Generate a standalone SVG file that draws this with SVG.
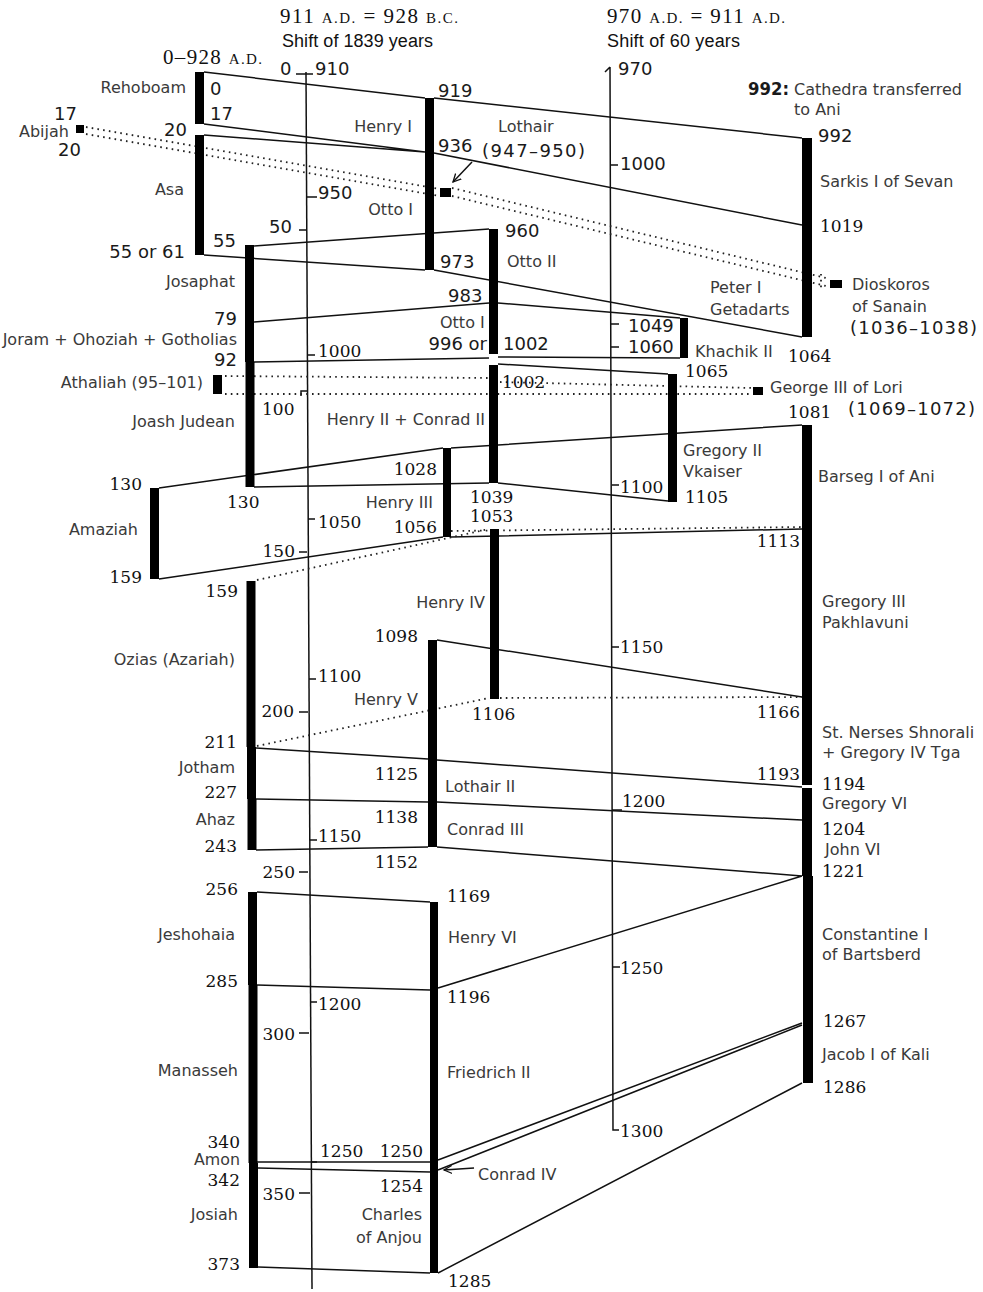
<svg xmlns="http://www.w3.org/2000/svg" width="983" height="1292" viewBox="0 0 983 1292">
<defs>
<style>
.b{fill:#000}
.c{stroke:#111;stroke-width:1.5;fill:none}
.dt{stroke:#222;stroke-width:1.8;fill:none;stroke-dasharray:1.6 4.2}
.ax{stroke:#111;stroke-width:1.5;fill:none}
.n{font-family:"DejaVu Sans",sans-serif;font-size:16px;fill:#3a3a3a}
.s{font-family:"DejaVu Sans",sans-serif;font-size:18px;fill:#1a1a1a}
.d{font-family:"DejaVu Serif",serif;font-size:17px;fill:#111}
.e{text-anchor:end}
.h{font-family:"Liberation Serif",serif;font-size:21px;fill:#111}
.hs{font-family:"Liberation Sans",sans-serif;font-size:18px;fill:#111}
</style>
<marker id="ah" markerWidth="10" markerHeight="10" refX="8" refY="5" orient="auto" markerUnits="userSpaceOnUse">
<path d="M0,1 L8,5 L0,9" fill="none" stroke="#111" stroke-width="1.3"/>
</marker>
</defs>
<rect width="983" height="1292" fill="#fff"/>

<g id="headers">
<text class="h" x="280" y="23" textLength="178">911 <tspan font-size="15">A.D.</tspan> = 928 <tspan font-size="15">B.C.</tspan></text>
<text class="hs" x="282" y="47" textLength="151">Shift of 1839 years</text>
<text class="h" x="607" y="23" textLength="178">970 <tspan font-size="15">A.D.</tspan> = 911 <tspan font-size="15">A.D.</tspan></text>
<text class="hs" x="607" y="47" textLength="133">Shift of 60 years</text>
<text class="h" x="163" y="64" textLength="99">0–928 <tspan font-size="15">A.D.</tspan></text>
</g>

<g id="axis-1">
<path class="ax" d="M306,72 L312,1289"/>
<path class="ax" d="M296,74 L313,74"/>
<text class="s" x="280" y="75">0</text>
<text class="s" x="315" y="75">910</text>
<path class="ax" d="M299,230 L306,230 M301,396 L301,391 L307,391 M299,552 L307,552 M299,712 L308,712 M299,872 L308,872 M299,1033 L309,1033 M299,1193 L310,1193"/>
<text class="s e" x="292" y="233">50</text>
<text class="d" x="262" y="415">100</text>
<text class="d e" x="295" y="557">150</text>
<text class="d e" x="294" y="717">200</text>
<text class="d e" x="295" y="878">250</text>
<text class="d e" x="295" y="1040">300</text>
<text class="d e" x="295" y="1200">350</text>
<path class="ax" d="M307,197 L317,197 M307,355 L315,355 M308,519 L315,519 M309,679 L316,679 M310,840 L317,840 M311,1002 L317,1002 M311,1162 L317,1162"/>
<text class="s" x="318" y="199">950</text>
<text class="d" x="318" y="357">1000</text>
<text class="d" x="318" y="528">1050</text>
<text class="d" x="318" y="682">1100</text>
<text class="d" x="318" y="842">1150</text>
<text class="d" x="318" y="1010">1200</text>
<text class="d" x="320" y="1157">1250</text>
</g>

<g id="axis-2">
<path class="ax" d="M610,67 L613,1130 L619,1130 M605,72 L610,67"/>
<path class="ax" d="M611,165 L618,165 M611,324 L619,324 M611,347 L619,347 M612,485 L619,485 M612,647 L619,647 M612,810 L622,810 M613,967 L620,967"/>
<text class="s" x="618" y="75">970</text>
<text class="s" x="620" y="170">1000</text>
<text class="s" x="628" y="332">1049</text>
<text class="s" x="628" y="353">1060</text>
<text class="d" x="620" y="493">1100</text>
<text class="d" x="620" y="653">1150</text>
<text class="d" x="622" y="807">1200</text>
<text class="d" x="620" y="974">1250</text>
<text class="d" x="620" y="1137">1300</text>
</g>

<g id="connectors">
<path class="c" d="M204,72 L425,98 M434,98 L802,138 M204,124 L425,152 M204,135 L425,152 M434,153 L802,225 M204,255 L425,270 M254,246 L489,229 M434,270 L802,337 M254,322 L489,303 M498,303 L680,318 M254,362 L489,358 M498,357 L680,358 M498,364 L668,374 M159,488 L443,448 M451,448 L802,425 M254,487 L489,483 M498,483 L668,501 M159,579 L443,537 M451,537 L802,529 M437,640 L802,697 M256,748 L428,759 M437,760 L802,787 M256,799 L428,802 M437,802 L802,820 M256,850 L428,847 M437,847 L802,876 M257,892 L430,902 M257,985 L430,990 M438,988 L802,876 M257,1162 L430,1162 M258,1168 L430,1172 M438,1160 L802,1023 M438,1170 L802,1025 M258,1267 L430,1273 M438,1273 L802,1083"/>
<path class="dt" d="M86,127 L440,189 M86,134 L440,196 M452,188 L826,278 M452,196 L826,286 M225,376 L489,378 M500,382 L752,388 M225,394 L752,394 M257,580 L489,529 M451,531 L802,527 M257,746 L489,698 M500,698 L802,697"/>
<path class="c" d="M472,162 L453,182" marker-end="url(#ah)"/>
<path class="c" d="M474,1168 L444,1170" marker-end="url(#ah)"/>
</g>

<g id="rehoboam"><rect class="b" x="195" y="72" width="9" height="52"/><text class="n e" x="186" y="93">Rehoboam</text><text class="s" x="210" y="95">0</text><text class="s" x="210" y="120" font-size="17">17</text></g>
<g id="abijah"><rect class="b" x="76" y="125" width="8" height="8"/><text class="s e" x="77" y="120" font-size="16">17</text><text class="n" x="19" y="137">Abijah</text><text class="s" x="58" y="156" font-size="16">20</text></g>
<g id="asa"><rect class="b" x="195" y="135" width="9" height="120"/><text class="s e" x="187" y="136">20</text><text class="n e" x="184" y="195">Asa</text><text class="s" x="213" y="247">55</text><text class="s e" x="185" y="258">55 or 61</text></g>
<g id="josaphat"><rect class="b" x="245" y="245" width="9" height="77"/><text class="n e" x="235" y="287">Josaphat</text><text class="s e" x="237" y="325">79</text></g>
<g id="joram"><rect class="b" x="245" y="322" width="9" height="40"/><text class="n e" x="237" y="345">Joram + Ohoziah + Gotholias</text><text class="s e" x="237" y="366">92</text></g>
<g id="athaliah"><rect class="b" x="213" y="375" width="9" height="19"/><text class="n e" x="203" y="388" font-size="17.5">Athaliah (95–101)</text></g>
<g id="joash"><rect class="b" x="245.5" y="362" width="9" height="125"/><text class="n e" x="235" y="427">Joash Judean</text><text class="d" x="227" y="508">130</text></g>
<g id="amaziah"><rect class="b" x="150" y="488" width="9" height="91"/><text class="d e" x="142" y="490">130</text><text class="n e" x="138" y="535">Amaziah</text><text class="d e" x="142" y="583">159</text></g>
<g id="ozias"><rect class="b" x="246.5" y="581" width="9" height="166"/><text class="d e" x="238" y="597">159</text><text class="n e" x="235" y="665">Ozias (Azariah)</text><text class="d e" x="237" y="748">211</text></g>
<g id="jotham"><rect class="b" x="247" y="747" width="9" height="52"/><text class="n e" x="235" y="773">Jotham</text><text class="d e" x="237" y="798">227</text></g>
<g id="ahaz"><rect class="b" x="247.5" y="799" width="9" height="51"/><text class="n e" x="235" y="825">Ahaz</text><text class="d e" x="237" y="852">243</text></g>
<g id="jeshohaia"><rect class="b" x="248" y="892" width="9" height="93"/><text class="d e" x="238" y="895">256</text><text class="n e" x="235" y="940">Jeshohaia</text><text class="d e" x="238" y="987">285</text></g>
<g id="manasseh"><rect class="b" x="248.5" y="985" width="9" height="178"/><text class="n e" x="238" y="1076">Manasseh</text><text class="d e" x="240" y="1148" font-size="16">340</text></g>
<g id="amon"><rect class="b" x="249" y="1163" width="9" height="6"/><text class="n e" x="240" y="1165" font-size="11" textLength="46" lengthAdjust="spacingAndGlyphs">Amon</text></g>
<g id="josiah"><rect class="b" x="249" y="1169" width="9" height="99"/><text class="d e" x="240" y="1186">342</text><text class="n e" x="238" y="1220">Josiah</text><text class="d e" x="240" y="1270">373</text></g>

<g id="henry-i"><rect class="b" x="425" y="98" width="9" height="55"/><text class="s" x="438" y="97">919</text><text class="n e" x="412" y="132">Henry I</text><text class="s" x="438" y="152">936</text></g>
<g id="otto-i"><rect class="b" x="425" y="153" width="9" height="117"/><text class="n e" x="413" y="215">Otto I</text><text class="s" x="440" y="268">973</text></g>
<g id="lothair"><rect class="b" x="440" y="188" width="11" height="9"/><text class="n" x="498" y="132">Lothair</text><text class="s" x="482" y="157" textLength="103">(947–950)</text></g>
<g id="otto-ii"><rect class="b" x="489" y="229" width="9" height="74"/><text class="s" x="505" y="237">960</text><text class="n" x="507" y="267">Otto II</text><text class="s" x="448" y="302">983</text></g>
<g id="otto-iii"><rect class="b" x="489" y="303" width="9" height="51"/><text class="n" x="440" y="328">Otto I</text><text class="s e" x="487" y="350">996 or</text><text class="s" x="503" y="350">1002</text></g>
<g id="henry-ii"><rect class="b" x="489" y="365" width="9" height="118"/><text class="d" x="502" y="388">1002</text><text class="n e" x="485" y="425">Henry II + Conrad II</text><text class="d" x="470" y="503">1039</text></g>
<g id="henry-iii"><rect class="b" x="443" y="448" width="8" height="89"/><text class="d e" x="437" y="475">1028</text><text class="n e" x="433" y="508">Henry III</text><text class="d e" x="437" y="533">1056</text></g>
<g id="henry-iv"><rect class="b" x="490" y="529" width="9" height="170"/><text class="d" x="470" y="522">1053</text><text class="n e" x="485" y="608">Henry IV</text><text class="d" x="472" y="720">1106</text></g>
<g id="henry-v"><rect class="b" x="428" y="640" width="9" height="120"/><text class="d e" x="418" y="642">1098</text><text class="n e" x="418" y="705">Henry V</text><text class="d e" x="418" y="780">1125</text></g>
<g id="lothair-ii"><rect class="b" x="428" y="760" width="9" height="42"/><text class="n" x="445" y="792">Lothair II</text><text class="d e" x="418" y="823">1138</text></g>
<g id="conrad-iii"><rect class="b" x="428" y="802" width="9" height="45"/><text class="n" x="447" y="835">Conrad III</text><text class="d e" x="418" y="868">1152</text></g>
<g id="henry-vi"><rect class="b" x="430" y="902" width="8" height="87"/><text class="d" x="447" y="902">1169</text><text class="n" x="448" y="943">Henry VI</text><text class="d" x="447" y="1003">1196</text></g>
<g id="friedrich-ii"><rect class="b" x="430" y="989" width="8" height="174"/><text class="n" x="447" y="1078">Friedrich II</text><text class="d e" x="423" y="1157">1250</text></g>
<g id="conrad-iv"><rect class="b" x="430" y="1163" width="8" height="13"/><text class="n" x="478" y="1180">Conrad IV</text><text class="d e" x="423" y="1192">1254</text></g>
<g id="charles"><rect class="b" x="430" y="1176" width="8" height="97"/><text class="n e" x="422" y="1220">Charles</text><text class="n e" x="422" y="1243">of Anjou</text><text class="d" x="448" y="1287">1285</text></g>

<g id="cathedra"><text class="s" x="748" y="95" font-weight="bold" font-size="16" textLength="41" lengthAdjust="spacingAndGlyphs">992:</text><text class="n" x="794" y="95">Cathedra transferred</text><text class="n" x="794" y="115">to Ani</text></g>
<g id="sarkis"><rect class="b" x="802" y="138" width="10" height="87"/><text class="s" x="818" y="142">992</text><text class="n" x="820" y="187">Sarkis I of Sevan</text><text class="d" x="820" y="232">1019</text></g>
<g id="peter-i"><rect class="b" x="802" y="225" width="10" height="112"/><text class="n" x="710" y="293">Peter I</text><text class="n" x="710" y="315">Getadarts</text><text class="d" x="788" y="362">1064</text></g>
<g id="dioskoros"><path class="dt" d="M821,274 L821,289"/><rect class="b" x="830" y="280" width="12" height="8"/><text class="n" x="852" y="290">Dioskoros</text><text class="n" x="852" y="312">of Sanain</text><text class="s" x="850" y="334" textLength="127">(1036–1038)</text></g>
<g id="khachik-ii"><rect class="b" x="680" y="318" width="8" height="40"/><text class="n" x="695" y="357">Khachik II</text><text class="d" x="685" y="377">1065</text></g>
<g id="george-iii"><rect class="b" x="753" y="387" width="10" height="8"/><text class="n" x="770" y="393">George III of Lori</text><text class="s" x="848" y="415" textLength="127">(1069–1072)</text></g>
<g id="gregory-ii"><rect class="b" x="668" y="374" width="9" height="128"/><text class="n" x="683" y="456">Gregory II</text><text class="n" x="683" y="477">Vkaiser</text><text class="d" x="685" y="503">1105</text></g>
<g id="barseg"><rect class="b" x="802" y="425" width="10" height="103"/><text class="d" x="788" y="418">1081</text><text class="n" x="818" y="482">Barseg I of Ani</text></g>
<g id="gregory-iii"><rect class="b" x="802" y="528" width="10" height="170"/><text class="d e" x="800" y="547">1113</text><text class="n" x="822" y="607">Gregory III</text><text class="n" x="822" y="628">Pakhlavuni</text></g>
<g id="nerses"><rect class="b" x="802" y="698" width="10" height="87"/><text class="d e" x="800" y="718">1166</text><text class="n" x="822" y="738">St. Nerses Shnorali</text><text class="n" x="822" y="758">+ Gregory IV Tga</text><text class="d e" x="800" y="780">1193</text></g>
<g id="gregory-vi"><rect class="b" x="802" y="788" width="10" height="32"/><text class="d" x="822" y="790">1194</text><text class="n" x="822" y="809">Gregory VI</text><text class="d" x="822" y="835">1204</text></g>
<g id="john-vi"><rect class="b" x="802" y="820" width="10" height="56"/><text class="n" x="825" y="855">John VI</text><text class="d" x="822" y="877">1221</text></g>
<g id="constantine-i"><rect class="b" x="803" y="876" width="10" height="147"/><text class="n" x="822" y="940">Constantine I</text><text class="n" x="822" y="960">of Bartsberd</text><text class="d" x="823" y="1027">1267</text></g>
<g id="jacob-i"><rect class="b" x="803" y="1023" width="10" height="60"/><text class="n" x="822" y="1060">Jacob I of Kali</text><text class="d" x="823" y="1093">1286</text></g>
</svg>
